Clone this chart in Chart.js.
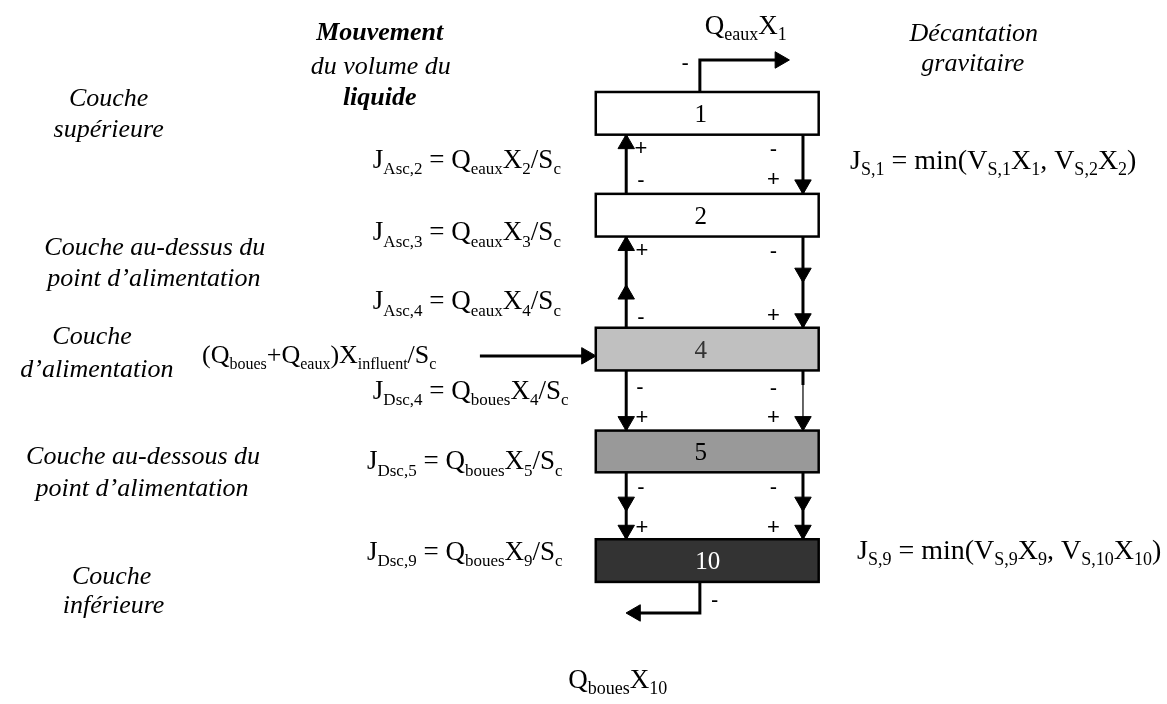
<!DOCTYPE html>
<html>
<head>
<meta charset="utf-8">
<script src="https://cdn.jsdelivr.net/npm/chart.js@4.4.0/dist/chart.umd.min.js"></script>
<style>
html, body { margin: 0; padding: 0; background: #fff; }
#canvas { display: block; }
</style>
</head>
<body>
<canvas id="canvas" width="1167" height="704"></canvas>
<script>
/* couches du decanteur */
const couches = ['1', '2', '4', '5', '10'];
const coucheHaut = [84, 189, 327, 433, 545];
const coucheBas = [128, 233, 371, 476, 589];

/* flux entre couches: polylignes et pointes de fleche [x, y, sens] */
const traits = [
  [[702, 84], [702, 51], [783, 51]],
  [[627, 189], [627, 128]],
  [[807, 128], [807, 189]],
  [[627, 327], [627, 233]],
  [[807, 233], [807, 327]],
  [[627, 371], [627, 433]],
  [[807, 371], [807, 386]],
  [[627, 476], [627, 545]],
  [[807, 476], [807, 545]],
  [[702, 589], [702, 621], [637, 621]],
  [[478, 356], [588, 356]]
];
const traitsFins = [
  [[807, 386], [807, 433]]
];
const pointes = [
  [793, 51, 'droite'], [627, 128, 'haut'], [807, 189, 'bas'],
  [627, 233, 'haut'], [627, 283, 'haut'], [807, 280, 'bas'], [807, 327, 'bas'],
  [627, 433, 'bas'], [807, 433, 'bas'],
  [627, 516, 'bas'], [627, 545, 'bas'], [807, 516, 'bas'], [807, 545, 'bas'],
  [627, 621, 'gauche'], [596, 356, 'droite']
];
const signes = [
  [642, 143, '+'], [642, 176, '-'], [777, 144, '-'], [777, 175, '+'],
  [643, 248, '+'], [642, 317, '-'], [777, 249, '-'], [777, 315, '+'],
  [641, 389, '-'], [643, 420, '+'], [777, 390, '-'], [777, 420, '+'],
  [642, 492, '-'], [643, 533, '+'], [777, 492, '-'], [777, 533, '+'],
  [687, 55, '-'], [717, 609, '-']
];

/* textes: libelles en italique (centres) et formules des flux */
const libelles = [
  ['Mouvement', 376, 30], ['du volume du', 377, 65], ['liquide', 376, 97],
  ['Couche', 100, 98], ['supérieure', 100, 130],
  ['Couche au-dessus du', 147, 252], ['point d\u2019alimentation', 146, 284],
  ['Couche', 83, 344], ['d\u2019alimentation', 88, 378],
  ['Couche au-dessous du', 135, 467], ['point d\u2019alimentation', 134, 500],
  ['Couche', 103, 591], ['inférieure', 105, 621],
  ['Décantation', 981, 31], ['gravitaire', 980, 62]
];
const enGras = ['Mouvement', 'liquide'];
const formules = [
  ['Q_{eaux}X_{1}', 707, 24],
  ['J_{Asc,2} = Q_{eaux}X_{2}/S_{c}', 369, 162],
  ['J_{Asc,3} = Q_{eaux}X_{3}/S_{c}', 369, 237],
  ['J_{Asc,4} = Q_{eaux}X_{4}/S_{c}', 369, 308],
  ['(Q_{boues}+Q_{eaux})X_{influent}/S_{c}', 195, 363],
  ['J_{Dsc,4} = Q_{boues}X_{4}/S_{c}', 369, 400],
  ['J_{Dsc,5} = Q_{boues}X_{5}/S_{c}', 363, 473],
  ['J_{Dsc,9} = Q_{boues}X_{9}/S_{c}', 363, 566],
  ['J_{S,1} = min(V_{S,1}X_{1}, V_{S,2}X_{2})', 855, 163],
  ['J_{S,9} = min(V_{S,9}X_{9}, V_{S,10}X_{10})', 862, 565],
  ['Q_{boues}X_{10}', 568, 698]
];
const tailleFormule = [27, 27, 27, 27, 26, 27, 27, 27, 28, 28, 27];
const tailleIndice = [18, 17, 17, 17, 16, 17, 17, 17, 18, 18, 18];

const fondCouche = ['#ffffff', '#ffffff', '#c0c0c0', '#999999', '#333333'];
const texteCouche = ['#000000', '#000000', '#333333', '#000000', '#ffffff'];
const serif = '"Liberation Serif", "Times New Roman", serif';
const rotations = { haut: 0, droite: 90, bas: 180, gauche: 270 };
const R = 9.5;

/* datasets */
var datasets = [];
traits.forEach(function (t) {
  datasets.push({
    data: t.map(function (p) { return { x: p[0], y: p[1] }; }),
    showLine: true, borderColor: '#000', borderWidth: 3, pointRadius: 0, fill: false
  });
});
traitsFins.forEach(function (t) {
  datasets.push({
    data: t.map(function (p) { return { x: p[0], y: p[1] }; }),
    showLine: true, borderColor: '#000', borderWidth: 1.2, pointRadius: 0, fill: false
  });
});
/* la pointe du triangle est a R du centre */
datasets.push({
  data: pointes.map(function (p) {
    var dx = 0, dy = 0;
    if (p[2] == 'haut') dy = R;
    if (p[2] == 'bas') dy = -R;
    if (p[2] == 'droite') dx = -R;
    if (p[2] == 'gauche') dx = R;
    return { x: p[0] + dx, y: p[1] + dy };
  }),
  showLine: false,
  pointStyle: 'triangle',
  pointRadius: R,
  pointRotation: pointes.map(function (p) { return rotations[p[2]]; }),
  backgroundColor: '#000', borderColor: '#000', borderWidth: 1
});

/* texte avec indices: X_{1} */
function texteRiche(ctx, str, x, y, taille, tSub) {
  var morceaux = str.split(/(_\{[^}]*\})/).filter(function (s) { return s.length; });
  ctx.textAlign = 'left';
  ctx.textBaseline = 'alphabetic';
  morceaux.forEach(function (m) {
    if (m.indexOf('_{') == 0) {
      m = m.slice(2, -1);
      ctx.font = tSub + 'px ' + serif;
      ctx.fillText(m, x, y + taille * 0.24);
    } else {
      ctx.font = taille + 'px ' + serif;
      ctx.fillText(m, x, y);
    }
    x += ctx.measureText(m).width;
  });
}

const decanteur = {
  id: 'decanteur',
  beforeDatasetsDraw: function (chart) {
    var ctx = chart.ctx, sx = chart.scales.x, sy = chart.scales.y;
    ctx.save();
    couches.forEach(function (c, i) {
      var x0 = sx.getPixelForValue(596), x1 = sx.getPixelForValue(823);
      var y0 = sy.getPixelForValue(coucheHaut[i]), y1 = sy.getPixelForValue(coucheBas[i]);
      ctx.fillStyle = fondCouche[i];
      ctx.fillRect(x0, y0, x1 - x0, y1 - y0);
      ctx.lineWidth = 2.5;
      ctx.strokeStyle = '#000';
      ctx.strokeRect(x0, y0, x1 - x0, y1 - y0);
      ctx.fillStyle = texteCouche[i];
      ctx.font = '25px ' + serif;
      ctx.textAlign = 'center';
      ctx.textBaseline = 'middle';
      ctx.fillText(c, sx.getPixelForValue(c.length > 1 ? 710 : 703), (y0 + y1) / 2 + 2);
    });
    ctx.restore();
  },
  afterDatasetsDraw: function (chart) {
    var ctx = chart.ctx, sx = chart.scales.x, sy = chart.scales.y;
    ctx.save();
    ctx.fillStyle = '#000';
    libelles.forEach(function (l) {
      ctx.textAlign = 'center';
      ctx.textBaseline = 'alphabetic';
      ctx.font = (enGras.indexOf(l[0]) >= 0 ? 'italic bold ' : 'italic ') + '26px ' + serif;
      ctx.fillText(l[0], sx.getPixelForValue(l[1]), sy.getPixelForValue(l[2]));
    });
    formules.forEach(function (f, i) {
      texteRiche(ctx, f[0], sx.getPixelForValue(f[1]), sy.getPixelForValue(f[2]), tailleFormule[i], tailleIndice[i]);
    });
    ctx.font = '22px "Liberation Sans", Arial, sans-serif';
    ctx.textAlign = 'center';
    ctx.textBaseline = 'middle';
    signes.forEach(function (s) {
      ctx.fillText(s[2], sx.getPixelForValue(s[0]), sy.getPixelForValue(s[1]));
    });
    ctx.restore();
  }
};

new Chart(document.getElementById('canvas'), {
  type: 'scatter',
  data: { datasets: datasets },
  options: {
    responsive: false,
    animation: false,
    devicePixelRatio: 1,
    events: [],
    layout: { padding: 0 },
    plugins: { legend: { display: false }, tooltip: { enabled: false } },
    scales: {
      x: { type: 'linear', min: 0, max: 1167, display: false },
      y: { type: 'linear', min: 0, max: 704, reverse: true, display: false }
    }
  },
  plugins: [decanteur]
});
</script>
</body>
</html>
